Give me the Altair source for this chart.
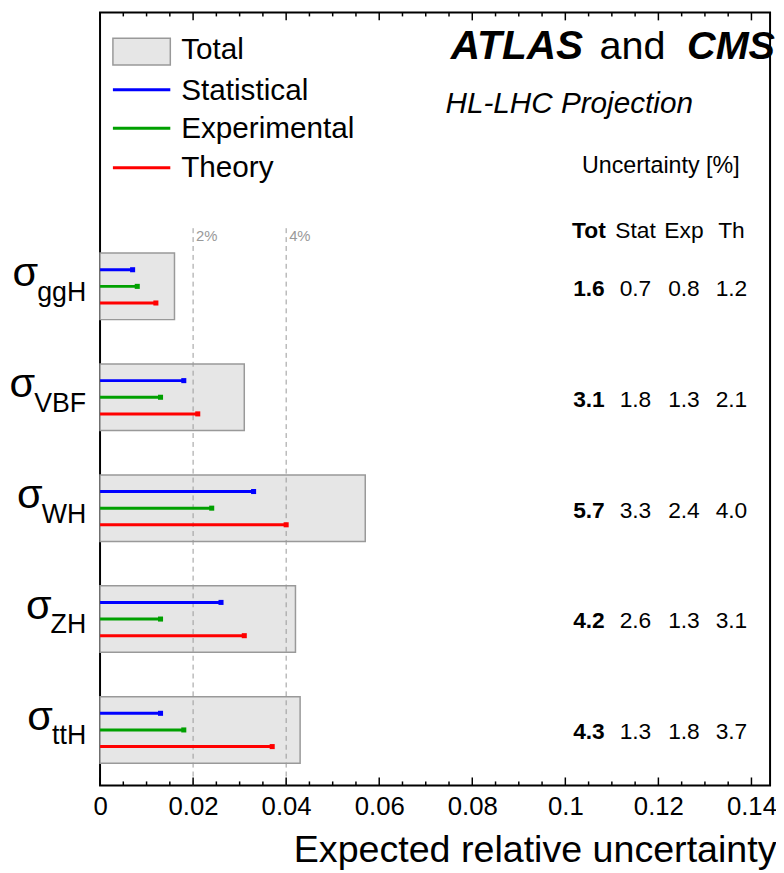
import altair as alt
import pandas as pd

# ---------------- data ----------------
procs = ["ggH", "VBF", "WH", "ZH", "ttH"]
tot_pct = [1.6, 3.1, 5.7, 4.2, 4.3]
stat_pct = [0.7, 1.8, 3.3, 2.6, 1.3]
exp_pct = [0.8, 1.3, 2.4, 1.3, 1.8]
th_pct = [1.2, 2.1, 4.0, 3.1, 3.7]

components = ["Statistical", "Experimental", "Theory"]
comp_colors = ["#0000ff", "#00a000", "#ff0000"]
legend_labels = ["Total", "Statistical", "Experimental", "Theory"]
headers = ["Tot", "Stat", "Exp", "Th"]

ref_lines = [0.02, 0.04]
ref_labels = ["2%", "4%"]
major_ticks = [0, 0.02, 0.04, 0.06, 0.08, 0.1, 0.12, 0.14]
minor_ticks = [0.005, 0.01, 0.015, 0.025, 0.03, 0.035, 0.045, 0.05, 0.055,
               0.065, 0.07, 0.075, 0.085, 0.09, 0.095, 0.105, 0.11, 0.115,
               0.125, 0.13, 0.135]

FONT = "Liberation Sans"
W, H = 677, 781
XMAX, YMAX = 0.144, 6.97

xs = alt.Scale(domain=[0, XMAX], nice=False, zero=False)
ys = alt.Scale(domain=[0, YMAX], nice=False, zero=False)

n = len(procs)
df = pd.DataFrame({
    "proc": procs,
    "tot_pct": tot_pct, "stat_pct": stat_pct, "exp_pct": exp_pct, "th_pct": th_pct,
})
df["tot"] = df["tot_pct"] / 100
df["pos"] = [n - i - 0.5 for i in range(n)]
df["y_lo"] = df["pos"] - 0.3
df["y_hi"] = df["pos"] + 0.3
df["zero"] = 0.0

rows = []
offsets = {"Statistical": 0.15, "Experimental": 0.0, "Theory": -0.15}
for i, p in enumerate(procs):
    for comp, vals in zip(components, [stat_pct, exp_pct, th_pct]):
        rows.append({"proc": p, "comp": comp, "val": vals[i] / 100,
                     "yy": df["pos"][i] + offsets[comp], "zero": 0.0})
ldf = pd.DataFrame(rows)

color = alt.Color("comp:N", scale=alt.Scale(domain=components, range=comp_colors), legend=None)

x_axis = alt.Axis(values=major_ticks, format="~g", ticks=False, domain=False, grid=False,
                  labelFontSize=26, labelFont=FONT, labelColor="black", labelPadding=8,
                  labelFlush=False, labelOverlap=False,
                  title="Expected relative uncertainty", titleFontSize=38, titleFont=FONT,
                  titleFontWeight="normal", titleColor="black", titleX=W + 6, titleY=77,
                  titleAlign="right", titleBaseline="alphabetic", titleAnchor="end")

bars = alt.Chart(df).mark_rect(fill="#e6e6e6", stroke="#999999", strokeWidth=1.5).encode(
    x=alt.X("zero:Q", scale=xs, axis=x_axis),
    x2="tot:Q",
    y=alt.Y("y_lo:Q", scale=ys, axis=None),
    y2="y_hi:Q",
)

rdf = pd.DataFrame({"x": ref_lines, "lab": ref_labels})
ref = alt.Chart(rdf).mark_rule(color="#999999", strokeDash=[5, 4], strokeWidth=1).encode(
    x=alt.X("x:Q", scale=xs), y=alt.value(218), y2=alt.value(H))
ref_txt = alt.Chart(rdf).mark_text(align="left", baseline="alphabetic", dx=3, fontSize=15,
                                   color="#999999", font=FONT).encode(
    x=alt.X("x:Q", scale=xs), y=alt.value(231), text="lab:N")

lines = alt.Chart(ldf).mark_rule(strokeWidth=3).encode(
    x=alt.X("zero:Q", scale=xs), x2="val:Q", y=alt.Y("yy:Q", scale=ys), color=color)
caps = alt.Chart(ldf).mark_square(size=26, opacity=1, filled=True).encode(
    x=alt.X("val:Q", scale=xs), y=alt.Y("yy:Q", scale=ys), color=color)

# ticks (inward, bottom and top)
mj = pd.DataFrame({"x": major_ticks})
mn = pd.DataFrame({"x": minor_ticks})
tick_layers = []
for tdf, ln in [(mj, 8), (mn, 4)]:
    tick_layers.append(alt.Chart(tdf).mark_rule(color="black", strokeWidth=1.5).encode(
        x=alt.X("x:Q", scale=xs), y=alt.value(H), y2=alt.value(H - ln)))
    tick_layers.append(alt.Chart(tdf).mark_rule(color="black", strokeWidth=1.5).encode(
        x=alt.X("x:Q", scale=xs), y=alt.value(0), y2=alt.value(ln)))

# y labels: sigma with subscript
char_w = {"g": 0.556, "H": 0.722, "V": 0.667, "B": 0.667, "F": 0.611,
          "W": 0.944, "Z": 0.611, "t": 0.278}
SUB_FS, SIG_FS = 27, 42
SUB_RIGHT = -14
sub = alt.Chart(df).mark_text(align="right", baseline="alphabetic", fontSize=SUB_FS,
                              dy=14.5, font=FONT, color="black").encode(
    x=alt.value(SUB_RIGHT), y=alt.Y("pos:Q", scale=ys), text="proc:N")
sig_layers = []
for i, p in enumerate(procs):
    wsub = sum(char_w.get(c, 0.6) for c in p) * SUB_FS
    sig_layers.append(alt.Chart(df.iloc[[i]]).mark_text(
        align="right", baseline="alphabetic", fontSize=SIG_FS, font=FONT, color="black").encode(
        x=alt.value(SUB_RIGHT - wsub + 1), y=alt.Y("pos:Q", scale=ys), text=alt.value("σ")))

# value table
col_x = [494, 541, 590, 638]
col_fields = ["tot_pct", "stat_pct", "exp_pct", "th_pct"]
val_layers = []
for j, (cx, f) in enumerate(zip(col_x, col_fields)):
    val_layers.append(alt.Chart(df).mark_text(
        align="center", baseline="alphabetic", dy=9.5, fontSize=23, font=FONT,
        fontWeight="bold" if j == 0 else "normal", color="black").encode(
        x=alt.value(cx), y=alt.Y("pos:Q", scale=ys), text=alt.Text(f + ":Q", format=".1f")))
    val_layers.append(alt.Chart(pd.DataFrame({"t": [headers[j]]})).mark_text(
        align="center", baseline="alphabetic", fontSize=23, font=FONT,
        fontWeight="bold" if j == 0 else "normal", color="black").encode(
        x=alt.value(cx), y=alt.value(228), text="t:N"))

one = pd.DataFrame({"a": [0]})
unc_title = alt.Chart(one).mark_text(align="left", baseline="alphabetic", fontSize=23.5,
                                     font=FONT, color="black").encode(
    x=alt.value(487), y=alt.value(162), text=alt.value("Uncertainty [%]"))

atlas = alt.Chart(one).mark_text(align="right", baseline="alphabetic", fontSize=41, font=FONT,
                                 fontWeight="bold", fontStyle="italic", color="black").encode(
    x=alt.value(488), y=alt.value(47), text=alt.value("ATLAS"))
and_t = alt.Chart(one).mark_text(align="center", baseline="alphabetic", fontSize=40, font=FONT,
                                 color="black").encode(
    x=alt.value(538), y=alt.value(47), text=alt.value("and"))
cms = alt.Chart(one).mark_text(align="right", baseline="alphabetic", fontSize=40, font=FONT,
                               fontWeight="bold", fontStyle="italic", color="black").encode(
    x=alt.value(682), y=alt.value(47), text=alt.value("CMS"))
hl = alt.Chart(one).mark_text(align="left", baseline="alphabetic", fontSize=30, font=FONT,
                              fontStyle="italic", color="black").encode(
    x=alt.value(349), y=alt.value(102), text=alt.value("HL-LHC Projection"))

# legend
leg_box = alt.Chart(one).mark_rect(fill="#e6e6e6", stroke="#999999", strokeWidth=1.5).encode(
    x=alt.value(13), x2=alt.value(71), y=alt.value(26), y2=alt.value(53))
leg_line_y = [78, 117, 157]
leg_text_y = [47, 88, 127, 166]
leg_layers = [leg_box]
for k, comp in enumerate(components):
    leg_layers.append(alt.Chart(pd.DataFrame({"comp": [comp]})).mark_rule(strokeWidth=3).encode(
        x=alt.value(13), x2=alt.value(71), y=alt.value(leg_line_y[k]), color=color))
for k, lab in enumerate(legend_labels):
    leg_layers.append(alt.Chart(pd.DataFrame({"t": [lab]})).mark_text(
        align="left", baseline="alphabetic", fontSize=30, font=FONT, color="black").encode(
        x=alt.value(82), y=alt.value(leg_text_y[k]), text="t:N"))

chart = alt.layer(
    bars, ref, ref_txt, lines, caps, *tick_layers, sub, *sig_layers, *val_layers,
    unc_title, atlas, and_t, cms, hl, *leg_layers
).properties(
    width=W, height=H,
    background="white",
    autosize=alt.AutoSizeParams(type="none"),
    padding={"left": 93, "top": 0, "right": 6, "bottom": 82},
).configure_view(stroke="black", strokeWidth=2)

chart.save("out.html", embed_options={"renderer": "svg", "actions": False})
